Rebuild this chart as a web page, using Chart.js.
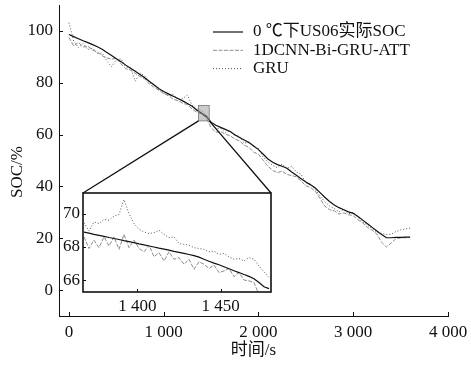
<!DOCTYPE html>
<html>
<head>
<meta charset="utf-8">
<script src="https://cdn.jsdelivr.net/npm/chart.js@4/dist/chart.umd.min.js"></script>
<style>
html, body { margin: 0; padding: 0; background: #fff; }
#wrap { position: relative; width: 471px; height: 367px; }
#main { position: absolute; left: 0; top: 0; }
#inset { position: absolute; left: 40px; top: 185px; }
</style>
</head>
<body>
<div id="wrap">
<canvas id="main" width="471" height="367"></canvas>
<canvas id="inset" width="240" height="130"></canvas>
</div>
<script>
// series names (legend order)
const seriesNames = ["0 ℃下US06实际SOC", "1DCNN-Bi-GRU-ATT", "GRU"];

// main chart, time in s
const time = [0, 50, 100, 150, 200, 250, 300, 350, 400, 450, 500, 550, 600, 650, 700, 750, 800, 850, 900, 950,
  1000, 1050, 1100, 1150, 1200, 1250, 1300, 1350, 1400, 1450, 1500, 1550, 1600, 1650, 1700, 1750, 1800, 1850, 1900, 1950,
  2000, 2050, 2100, 2150, 2200, 2250, 2300, 2350, 2400, 2450, 2500, 2550, 2600, 2650, 2700, 2750, 2800, 2850, 2900, 2950,
  3000, 3050, 3100, 3150, 3200, 3250, 3300, 3350, 3400, 3450, 3500, 3550, 3600];
const socActual = [98.6, 97.8, 97.0, 96.2, 95.5, 94.7, 93.9, 92.9, 91.7, 90.5, 89.3, 88.1, 86.8, 85.6, 84.4, 83.2, 81.9, 80.5, 79.1, 77.7,
  76.6, 75.7, 74.8, 73.9, 73.0, 72.0, 70.9, 69.4, 68.2, 67.0, 64.8, 63.6, 62.8, 62.0, 61.2, 59.9, 58.9, 57.9, 56.9, 55.6,
  54.2, 52.4, 50.6, 49.3, 48.4, 47.8, 47.0, 45.6, 44.3, 43.0, 41.7, 40.6, 39.4, 37.6, 35.8, 34.2, 32.8, 31.8, 31.0, 30.2,
  29.6, 28.4, 27.0, 25.6, 24.2, 22.8, 21.4, 20.2, 20.2, 20.3, 20.3, 20.4, 20.4];
const socCnn = [97.5, 94.2, 95.6, 93.8, 94.1, 92.6, 91.9, 90.4, 89.6, 89.1, 89.5, 87.2, 85.4, 84.9, 83.6, 82.4, 81.5, 79.4, 78.2, 77.1,
  75.8, 75.2, 73.6, 73.1, 72.1, 71.6, 69.8, 68.6, 68.0, 66.4, 62.6, 60.9, 61.2, 60.1, 59.6, 58.3, 57.6, 55.9, 55.1, 53.2,
  52.4, 50.1, 47.8, 46.2, 45.3, 45.9, 44.6, 44.2, 43.7, 42.1, 40.2, 39.6, 38.1, 35.3, 32.4, 31.0, 30.6, 29.3, 29.8, 29.1,
  28.7, 27.1, 25.9, 24.2, 23.1, 21.6, 18.4, 16.6, 18.2, 19.8, 20.1, 20.2, 20.3];
const socGru = [103.2, 96.1, 93.5, 95.2, 92.8, 93.4, 91.2, 91.5, 88.4, 86.2, 88.8, 89.3, 86.1, 85.7, 80.6, 83.8, 82.6, 80.1, 78.9, 77.9,
  76.1, 74.9, 75.6, 73.4, 73.9, 75.2, 71.3, 69.9, 69.1, 67.6, 64.5, 62.2, 62.4, 60.8, 61.6, 59.6, 59.4, 56.6, 57.1, 55.2,
  54.6, 51.3, 49.4, 48.1, 47.2, 48.6, 46.9, 47.8, 45.6, 44.7, 41.4, 40.9, 38.8, 36.2, 34.1, 32.4, 31.5, 30.2, 31.1, 29.4,
  29.9, 28.1, 26.2, 25.1, 23.7, 22.3, 21.9, 21.4, 21.5, 22.6, 23.2, 23.6, 23.9];
const xTicks = [0, 1000, 2000, 3000, 4000];
const yTicks = [0, 20, 40, 60, 80, 100];

// zoomed window
const zoomTime = [1368, 1371, 1374, 1377, 1380, 1383, 1386, 1389, 1392, 1395, 1398, 1401, 1404, 1407, 1410, 1413, 1416, 1419, 1422,
  1425, 1428, 1431, 1434, 1437, 1440, 1443, 1446, 1449, 1452, 1455, 1458, 1461, 1464, 1467, 1470, 1473, 1476, 1479];
const zoomActual = [68.88, 68.82, 68.75, 68.69, 68.63, 68.56, 68.50, 68.44, 68.37, 68.31, 68.25, 68.18, 68.12, 68.05, 67.99, 67.92, 67.86, 67.80, 67.73,
  67.67, 67.61, 67.54, 67.47, 67.38, 67.25, 67.13, 67.02, 66.92, 66.80, 66.68, 66.56, 66.45, 66.33, 66.22, 66.08, 65.85, 65.60, 65.48];
const zoomCnn = [68.60, 67.90, 68.40, 67.95, 68.60, 68.05, 68.60, 67.85, 68.75, 67.95, 68.40, 67.90, 67.70, 68.10, 67.40, 67.65, 67.15, 67.70, 67.25,
  67.35, 66.95, 67.25, 66.65, 67.10, 66.95, 66.70, 66.90, 66.45, 66.55, 66.70, 66.20, 66.45, 66.00, 65.95, 65.85, 65.10, 65.00, 64.90];
const zoomGru = [69.45, 68.95, 69.50, 69.40, 69.65, 69.60, 69.85, 69.95, 70.85, 70.00, 69.40, 69.05, 68.90, 68.80, 68.85, 69.00, 68.75, 68.55, 68.60,
  68.20, 68.15, 68.10, 67.95, 67.90, 67.85, 67.70, 67.75, 67.55, 67.60, 67.40, 67.25, 67.30, 67.15, 67.35, 67.25, 66.85, 66.50, 66.15];
const zoomXTicks = [1400, 1450];
const zoomYTicks = [66, 68, 70];
const zoomX = [1367.4, 1480.2];
const zoomY = [65.28, 71.24];

const FONT = '"Liberation Serif", "Noto Sans CJK SC", serif';
Chart.defaults.font.family = FONT;
Chart.defaults.font.size = 17;
Chart.defaults.color = "#111";

const lineStyles = [
  { color: "#111", width: 1.2, dash: [] },
  { color: "#8c8c8c", width: 1, dash: [4, 1.5] },
  { color: "#555", width: 1, dash: [1, 2] },
];

function makeSets(t, list) {
  return list.map((vals, i) => ({
    label: seriesNames[i],
    data: vals.map((v, j) => ({ x: t[j], y: v })),
    borderColor: lineStyles[i].color,
    borderWidth: lineStyles[i].width,
    borderDash: lineStyles[i].dash,
    pointRadius: 0,
    fill: false,
    tension: 0,
  }));
}

function spaced(v) {
  return String(v).replace(/\B(?=(\d{3})+(?!\d))/g, " ");
}

// fixed box size, and no extra room asked for the end labels
function fixBox(size) {
  return (s) => {
    if (s.isHorizontal()) s.height = size; else s.width = size;
    s.paddingTop = s.paddingBottom = s.paddingLeft = s.paddingRight = 0;
  };
}

// ticks pointing into the plot
function inwardTicks(chart, len) {
  const { ctx, chartArea: a } = chart;
  ctx.save();
  ctx.strokeStyle = "#111";
  ctx.lineWidth = 1;
  ctx.beginPath();
  Object.values(chart.scales).forEach((s) => {
    s.ticks.forEach((t) => {
      const p = Math.round(s.getPixelForValue(t.value)) + 0.5;
      if (s.axis === "x") {
        ctx.moveTo(p, a.bottom);
        ctx.lineTo(p, a.bottom - len);
      } else {
        ctx.moveTo(a.left, p);
        ctx.lineTo(a.left + len, p);
      }
    });
  });
  ctx.stroke();
  ctx.restore();
}

const insetDecor = {
  id: "insetDecor",
  beforeDraw(chart) {
    const { ctx, chartArea: a } = chart;
    ctx.save();
    ctx.fillStyle = "#fff";
    ctx.fillRect(a.left, a.top, a.right - a.left, a.bottom - a.top);
    ctx.restore();
  },
  afterDraw(chart) {
    const { ctx, chartArea: a } = chart;
    inwardTicks(chart, 3);
    ctx.save();
    ctx.strokeStyle = "#111";
    ctx.lineWidth = 1.6;
    ctx.strokeRect(a.left, a.top, a.right - a.left, a.bottom - a.top);
    ctx.restore();
  },
};

const insetChart = new Chart(document.getElementById("inset"), {
  type: "line",
  data: { datasets: makeSets(zoomTime, [zoomActual, zoomCnn, zoomGru]) },
  options: {
    responsive: false,
    animation: false,
    layout: { padding: { top: 8, right: 9, left: 0, bottom: 0 } },
    plugins: { legend: { display: false }, tooltip: { enabled: false } },
    scales: {
      x: {
        type: "linear",
        min: zoomX[0],
        max: zoomX[1],
        afterBuildTicks: (s) => { s.ticks = zoomXTicks.map((v) => ({ value: v })); },
        afterFit: fixBox(23),
        grid: { display: false, drawTicks: false },
        border: { display: false },
        ticks: { padding: 4, callback: spaced, maxRotation: 0 },
      },
      y: {
        min: zoomY[0],
        max: zoomY[1],
        afterBuildTicks: (s) => { s.ticks = zoomYTicks.map((v) => ({ value: v })); },
        afterFit: fixBox(43),
        grid: { display: false, drawTicks: false },
        border: { display: false },
        ticks: { padding: 3 },
      },
    },
  },
  plugins: [insetDecor],
});

const mainDecor = {
  id: "mainDecor",
  afterDraw(chart) {
    const { ctx, chartArea: a, scales: { x, y } } = chart;
    inwardTicks(chart, 4);
    ctx.save();

    // zoomed region marker
    const bx0 = x.getPixelForValue(zoomX[0]), bx1 = x.getPixelForValue(zoomX[1]);
    const by0 = y.getPixelForValue(zoomY[1]), by1 = y.getPixelForValue(zoomY[0]);
    ctx.fillStyle = "rgba(140,140,140,0.45)";
    ctx.fillRect(bx0, by0, bx1 - bx0, by1 - by0);
    ctx.strokeStyle = "#777";
    ctx.lineWidth = 0.8;
    ctx.strokeRect(bx0, by0, bx1 - bx0, by1 - by0);

    // connectors to the inset box
    const ia = insetChart.chartArea;
    const ox = insetChart.canvas.offsetLeft, oy = insetChart.canvas.offsetTop;
    ctx.strokeStyle = "#111";
    ctx.lineWidth = 1.3;
    ctx.beginPath();
    ctx.moveTo(bx0, by1);
    ctx.lineTo(ox + ia.left, oy + ia.top);
    ctx.moveTo(bx1, by1);
    ctx.lineTo(ox + ia.right, oy + ia.top);
    ctx.stroke();

    // legend
    ctx.font = "17px " + FONT;
    ctx.textBaseline = "middle";
    ctx.textAlign = "left";
    chart.data.datasets.forEach((ds, i) => {
      const ly = a.top + 27 + i * 18.3;
      ctx.strokeStyle = ds.borderColor;
      ctx.lineWidth = ds.borderWidth;
      ctx.setLineDash(ds.borderDash);
      ctx.beginPath();
      ctx.moveTo(a.left + 154, ly);
      ctx.lineTo(a.left + 184, ly);
      ctx.stroke();
      ctx.setLineDash([]);
      ctx.fillStyle = "#111";
      ctx.fillText(ds.label, a.left + 194, ly);
    });

    // axis titles
    ctx.textAlign = "center";
    ctx.fillText("时间/s", (a.left + a.right) / 2, 351);
    ctx.translate(18, 172);
    ctx.rotate(-Math.PI / 2);
    ctx.fillText("SOC/%", 0, 0);
    ctx.restore();
  },
};

new Chart(document.getElementById("main"), {
  type: "line",
  data: { datasets: makeSets(time, [socActual, socCnn, socGru]) },
  options: {
    responsive: false,
    animation: false,
    layout: { padding: { top: 5, right: 23, left: 0, bottom: 0 } },
    plugins: { legend: { display: false }, tooltip: { enabled: false } },
    scales: {
      x: {
        type: "linear",
        min: -105,
        max: 4000,
        afterBuildTicks: (s) => { s.ticks = xTicks.map((v) => ({ value: v })); },
        afterFit: fixBox(51),
        grid: { display: false, drawTicks: false },
        border: { display: true, color: "#111", width: 1 },
        ticks: { padding: 6, callback: spaced, maxRotation: 0 },
      },
      y: {
        min: -10,
        max: 110,
        afterBuildTicks: (s) => { s.ticks = yTicks.map((v) => ({ value: v })); },
        afterFit: fixBox(59),
        grid: { display: false, drawTicks: false },
        border: { display: true, color: "#111", width: 1 },
        ticks: { padding: 6 },
      },
    },
  },
  plugins: [mainDecor],
});
</script>
</body>
</html>
